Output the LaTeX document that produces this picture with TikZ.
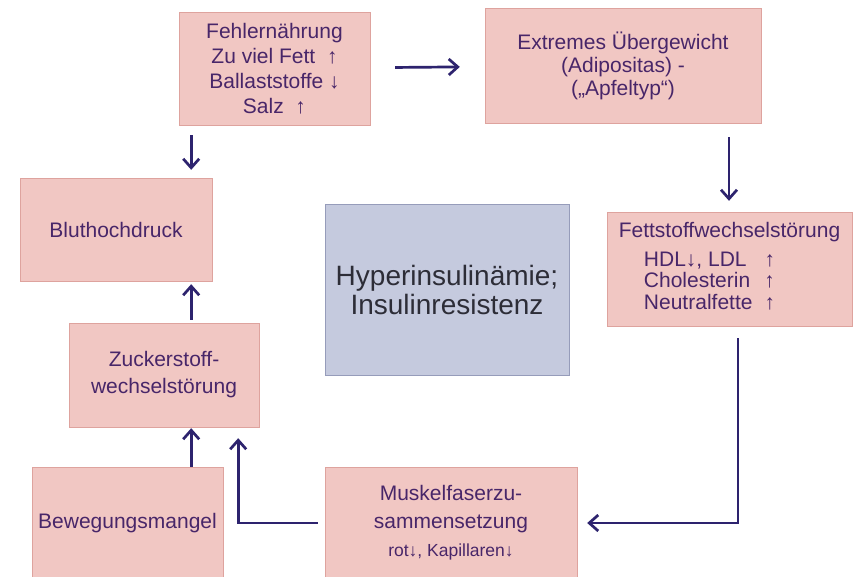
\documentclass[tikz,border=0pt]{standalone}
\usepackage{fontspec}
\setmainfont{Liberation Sans}
\usetikzlibrary{arrows.meta, positioning, calc}
\definecolor{boxpink}{RGB}{241,199,195}
\definecolor{boxline}{RGB}{222,163,158}
\definecolor{corefill}{RGB}{197,202,222}
\definecolor{coreline}{RGB}{150,156,186}
\definecolor{inkpurple}{RGB}{72,38,105}
\definecolor{inkgray}{RGB}{45,45,55}
\definecolor{arrowblue}{RGB}{45,35,110}
\tikzstyle{cause} = [rectangle, draw=boxline, thin, fill=boxpink, text=inkpurple,
                     align=center, inner sep=0pt, font=\fontsize{21}{25}\selectfont]
\tikzstyle{core}  = [rectangle, draw=coreline, thin, fill=corefill, text=inkgray,
                     align=center, inner sep=0pt, font=\fontsize{28}{29}\selectfont]
\tikzstyle{arr}   = [-{Straight Barb[length=9pt, width=16pt]}, line width=2.7pt, draw=arrowblue]

\begin{document}
\begin{tikzpicture}[x=1pt, y=-1pt]
    \clip (0,0) rectangle (859,576);
    \fill[white] (0,0) rectangle (859,576);

    \node[cause, minimum width=191pt, minimum height=113pt] (fehl) at (274.5,68.5)
         {Fehlernährung\\Zu viel Fett\ \ ↑\\Ballaststoffe ↓\\Salz\ \ ↑};
    \node[cause, minimum width=276pt, minimum height=115pt,
          font=\fontsize{21}{23}\selectfont] (extr) at (623,65.5)
         {Extremes Übergewicht\\(Adipositas) -\\(„Apfeltyp“)};
    \node[cause, minimum width=245pt, minimum height=114pt,
          font=\fontsize{21}{21}\selectfont] (fett) at (729.5,269)
         {Fettstoffwechselstörung\\[9pt]
          \begin{tabular}{@{}l@{\hspace{12pt}}l@{\hspace{40pt}}}
          HDL↓, LDL & ↑\\ Cholesterin & ↑\\ Neutralfette & ↑
          \end{tabular}};
    \node[cause, minimum width=192pt, minimum height=103pt] (blut) at (116,229.5)
         {Bluthochdruck};
    \node[cause, minimum width=190pt, minimum height=104pt,
          font=\fontsize{21}{27}\selectfont] (zuck) at (164,375)
         {Zuckerstoff-\\wechselstörung};
    \node[core, minimum width=244pt, minimum height=171pt] (hyper) at (447,289.5)
         {\raisebox{-4pt}{\parbox{240pt}{\centering Hyperinsulinämie;\\Insulinresistenz}}};
    \node[cause, minimum width=191pt, minimum height=112pt] (beweg) at (127.5,523)
         {\raisebox{-2pt}{Bewegungsmangel}};
    \node[cause, minimum width=252pt, minimum height=112pt] (musk) at (451,523)
         {\raisebox{-3pt}{\parbox{248pt}{\centering\fontsize{21}{28}\selectfont
          Muskelfaserzu-\\sammensetzung\\{\fontsize{17.5}{18}\selectfont rot↓, Kapillaren↓}}}};

    % connectors
    \draw[arr, shorten <=25pt, shorten >=25pt] (fehl) -- (extr);
    \draw[arr, shorten <=14pt, shorten >=11pt] ([xshift=-0.5pt]fett.north |- extr.south) -- ([xshift=-0.5pt]fett.north);
    \draw[arr, shorten <=10pt, shorten >=8pt] ([xshift=-21pt]blut.north east |- fehl.south) -- ([xshift=-21pt]blut.north east);
    \draw[arr, shorten <=3pt, shorten >=3pt] ([xshift=-21pt]blut.south east |- zuck.north) -- ([xshift=-21pt]blut.south east);
    \draw[arr, shorten >=1pt] ([xshift=-32pt]beweg.north east) -- ([xshift=-32pt]beweg.north east |- zuck.south);
    \draw[arr, shorten <=7pt, shorten >=11pt] (musk.west) -| ([xshift=-21pt]zuck.south east);
    \draw[arr, shorten <=12pt, shorten >=10pt] ([xshift=8.5pt]fett.south) |- (musk.east);
\end{tikzpicture}
\end{document}
